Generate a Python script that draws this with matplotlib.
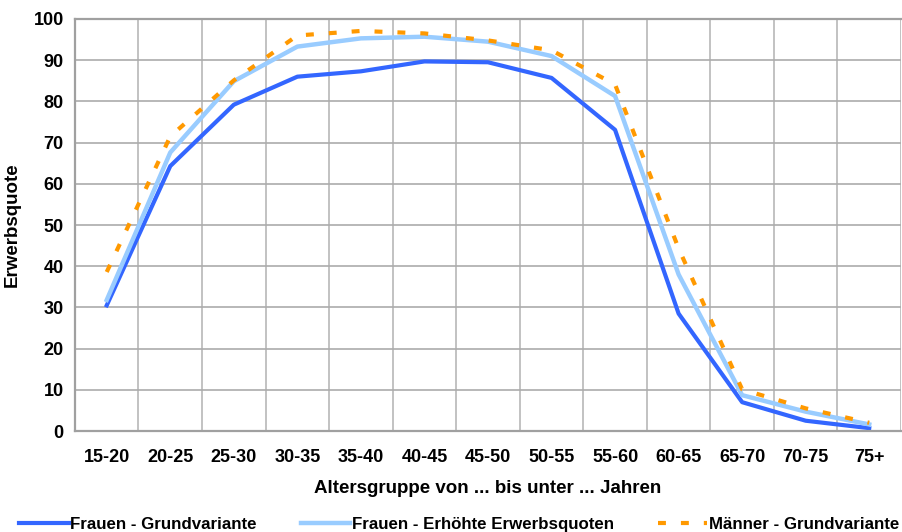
import matplotlib
matplotlib.use("Agg")
import matplotlib.pyplot as plt

# Altersgruppen and Erwerbsquoten
age_groups = ['15-20', '20-25', '25-30', '30-35', '35-40', '40-45', '45-50',
              '50-55', '55-60', '60-65', '65-70', '70-75', '75+']
frauen_grund = [30.5, 64.3, 79.2, 86.0, 87.3, 89.7, 89.5, 85.7, 73.1, 28.5, 7.0, 2.5, 0.7]
frauen_erhoeht = [31.8, 67.6, 84.9, 93.3, 95.3, 95.7, 94.5, 91.0, 81.3, 38.0, 8.7, 4.7, 1.6]
maenner_grund = [38.6, 71.5, 85.1, 96.0, 97.1, 96.5, 94.8, 92.4, 84.1, 44.3, 10.1, 5.5, 2.0]

plt.rcParams['font.family'] = ['Liberation Sans', 'DejaVu Sans']
plt.rcParams['font.weight'] = 'bold'

fig = plt.figure(figsize=(9.02, 5.32), dpi=100)
ax = fig.add_axes([0.0831, 0.1898, 0.9158, 0.7745])

x = list(range(len(age_groups)))
ax.plot(x, frauen_grund, color='#3366ff', lw=3, label='Frauen - Grundvariante')
ax.plot(x, frauen_erhoeht, color='#99ccff', lw=3.2, label='Frauen - Erhöhte Erwerbsquoten')
ax.plot(x, maenner_grund, color='#ff9900', lw=3, ls=(0, (1.9, 3.6)),
        label='Männer - Grundvariante')

ax.set_xlim(-0.5, len(age_groups) - 0.5)
ax.set_ylim(0, 100)
ax.set_yticks(range(0, 101, 10))
ax.set_xticks(x)
ax.set_xticklabels(age_groups)
ax.set_xticks([i + 0.5 for i in range(-1, len(age_groups))], minor=True)
ax.tick_params(axis='both', which='both', length=0, labelsize=13)
ax.tick_params(axis='x', pad=13)
ax.tick_params(axis='y', pad=8)

ax.grid(True, which='minor', axis='x', color='#bdbdbd', lw=1.3)
ax.grid(True, which='major', axis='y', color='#ababab', lw=1.2)
ax.set_axisbelow(True)
for side in ['left', 'bottom', 'top']:
    ax.spines[side].set_color('#a0a0a0')
    ax.spines[side].set_linewidth(1.6)
ax.spines['right'].set_visible(False)

ax.set_xlabel('Altersgruppe von ... bis unter ... Jahren', fontsize=13.5,
              fontweight='bold', labelpad=10)
ax.set_ylabel('Erwerbsquote', fontsize=13.5, fontweight='bold', labelpad=9)

fig.legend(loc='center', bbox_to_anchor=(0.509, 0.014), ncol=3, frameon=False,
           fontsize=12.2, handlelength=2.9, handletextpad=0.1, columnspacing=2.6)

fig.savefig('out.png', dpi=100)
